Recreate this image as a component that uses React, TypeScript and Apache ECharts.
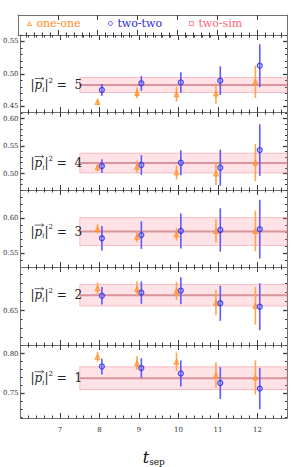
import React, { useEffect, useRef } from "react";
import * as echarts from "echarts";

// ---------------- data ----------------
const tsep = [8, 9, 10, 11, 12];
const xTickLabels = [7, 8, 9, 10, 11, 12];
const panelMomenta = [5, 4, 3, 2, 1];

// |p|^2 = 5
const oneOneP5 = [0.457, 0.471, 0.469, 0.47, 0.488];
const oneOneErrP5 = [0.005, 0.0085, 0.0115, 0.0157, 0.025];
const twoTwoP5 = [0.4754, 0.4857, 0.487, 0.4897, 0.5128];
const twoTwoErrP5 = [0.009, 0.0115, 0.0157, 0.022, 0.033];
const twoSimP5 = [0.483, 0.0115];
const yRangeP5 = [0.4415, 0.56];
const yLabelsP5 = [0.45, 0.5, 0.55];

// |p|^2 = 4
const oneOneP4 = [0.5113, 0.5124, 0.502, 0.5, 0.52];
const oneOneErrP4 = [0.007, 0.011, 0.013, 0.021, 0.034];
const twoTwoP4 = [0.5136, 0.5155, 0.5196, 0.5105, 0.5427];
const twoTwoErrP4 = [0.0125, 0.018, 0.0227, 0.033, 0.047];
const twoSimP4 = [0.519, 0.018];
const yRangeP4 = [0.47, 0.612];
const yLabelsP4 = [0.5, 0.55, 0.6];

// |p|^2 = 3
const oneOneP3 = [0.5847, 0.5737, 0.5771, 0.5819, 0.582];
const oneOneErrP3 = [0.0067, 0.008, 0.009, 0.017, 0.029];
const twoTwoP3 = [0.5714, 0.576, 0.5819, 0.5833, 0.5843];
const twoTwoErrP3 = [0.0176, 0.0197, 0.025, 0.031, 0.042];
const twoSimP3 = [0.581, 0.02];
const yRangeP3 = [0.5304, 0.6404];
const yLabelsP3 = [0.55, 0.6];

// |p|^2 = 2
const oneOneP2 = [0.6747, 0.6739, 0.6717, 0.6587, 0.6553];
const oneOneErrP2 = [0.0063, 0.0083, 0.01, 0.014, 0.021];
const twoTwoP2 = [0.6664, 0.6698, 0.672, 0.658, 0.6542];
const twoTwoErrP2 = [0.0096, 0.0124, 0.015, 0.0195, 0.026];
const twoSimP2 = [0.667, 0.012];
const yRangeP2 = [0.6117, 0.6983];
const yLabelsP2 = [0.65];

// |p|^2 = 1
const oneOneP1 = [0.796, 0.788, 0.7897, 0.773, 0.77];
const oneOneErrP1 = [0.0063, 0.0085, 0.0115, 0.016, 0.0214];
const twoTwoP1 = [0.7837, 0.7818, 0.775, 0.763, 0.756];
const twoTwoErrP1 = [0.0099, 0.0123, 0.0163, 0.02, 0.026];
const twoSimP1 = [0.769, 0.0143];
const yRangeP1 = [0.7191, 0.8107];
const yLabelsP1 = [0.75, 0.8];

// ---------------- layout / style ----------------
const FONT = "DejaVu Serif";
const X_MIN = 6;
const X_MAX = 12.75;
const FIT_START = 7.5;
const ONE_SHIFT = -0.05;
const TWO_SHIFT = 0.06;
const GRID_LEFT = 18;
const GRID_RIGHT = 4;
const LEGEND_ROW = { top: 15, height: 20 };
const PANEL_TOPS = [35, 112, 190, 267, 345];
const PANEL_HEIGHTS = [77, 78, 77, 78, 77];

const ORANGE = "#ff8c1a";
const ORANGE_BAR = "#ffa44a";
const BLUE = "#2a2ae6";
const BLUE_BAR = "#5b5bff";
const PINK_TEXT = "#ff6475";
const INK = "#222";

const X_MAJOR = [7, 8, 9, 10, 11, 12];
const X_MINOR: number[] = [];
for (let k = 31; k <= 63; k++) {
  if (k % 5 !== 0) X_MINOR.push(Math.round(k * 20) / 100);
}

type Panel = {
  m: number;
  one: number[];
  oneErr: number[];
  two: number[];
  twoErr: number[];
  sim: number[];
  yRange: number[];
  yLabels: number[];
};

const panels: Panel[] = [
  { m: panelMomenta[0], one: oneOneP5, oneErr: oneOneErrP5, two: twoTwoP5, twoErr: twoTwoErrP5, sim: twoSimP5, yRange: yRangeP5, yLabels: yLabelsP5 },
  { m: panelMomenta[1], one: oneOneP4, oneErr: oneOneErrP4, two: twoTwoP4, twoErr: twoTwoErrP4, sim: twoSimP4, yRange: yRangeP4, yLabels: yLabelsP4 },
  { m: panelMomenta[2], one: oneOneP3, oneErr: oneOneErrP3, two: twoTwoP3, twoErr: twoTwoErrP3, sim: twoSimP3, yRange: yRangeP3, yLabels: yLabelsP3 },
  { m: panelMomenta[3], one: oneOneP2, oneErr: oneOneErrP2, two: twoTwoP2, twoErr: twoTwoErrP2, sim: twoSimP2, yRange: yRangeP2, yLabels: yLabelsP2 },
  { m: panelMomenta[4], one: oneOneP1, oneErr: oneOneErrP1, two: twoTwoP1, twoErr: twoTwoErrP1, sim: twoSimP1, yRange: yRangeP1, yLabels: yLabelsP1 },
];

function minorValues(range: number[]): number[] {
  const out: number[] = [];
  const start = Math.ceil(range[0] * 100);
  const end = Math.floor(range[1] * 100);
  for (let k = start; k <= end; k++) {
    if (k % 5 !== 0) out.push(k / 100);
  }
  return out;
}

const errRender = (color: string) => (params: any, api: any) => {
  const x = api.value(0);
  const y = api.value(1);
  const e = api.value(2);
  const a = api.coord([x, y - e]);
  const b = api.coord([x, y + e]);
  return {
    type: "line",
    shape: { x1: a[0], y1: a[1], x2: b[0], y2: b[1] },
    style: { stroke: color, lineWidth: 1.6 },
  };
};

const labelRich = {
  b: { fontSize: 12, fontFamily: FONT, lineHeight: 16, color: INK },
  p: { fontSize: 12, fontFamily: FONT, fontStyle: "italic", lineHeight: 16, color: INK },
  sub: { fontSize: 7, fontFamily: FONT, fontStyle: "italic", lineHeight: 9, verticalAlign: "bottom", color: INK },
  sup: { fontSize: 7, fontFamily: FONT, lineHeight: 9, verticalAlign: "top", color: INK },
};

const bandRender = (params: any, api: any) => {
  const x0 = api.value(0);
  const x1 = api.value(1);
  const c = api.value(2);
  const e = api.value(3);
  const m = api.value(4);
  const tl = api.coord([x0, c + e]);
  const br = api.coord([x1, c - e]);
  const l0 = api.coord([x0, c]);
  const l1 = api.coord([x1, c]);
  const left = api.coord([X_MIN, c]);
  const tx = left[0] + 10;
  return {
    type: "group",
    children: [
      {
        type: "rect",
        shape: { x: tl[0], y: tl[1], width: br[0] - tl[0], height: br[1] - tl[1] },
        style: { fill: "rgba(255,140,155,0.25)", stroke: "rgba(240,130,145,0.6)", lineWidth: 0.8 },
      },
      {
        type: "line",
        shape: { x1: l0[0], y1: l0[1], x2: l1[0], y2: l1[1] },
        style: { stroke: "#d9939a", lineWidth: 2 },
      },
      {
        type: "text",
        x: tx,
        y: l0[1],
        style: {
          text: `{b||}{p|p}{sub|i}{b||}{sup|2}{b| =  ${m}}`,
          rich: labelRich,
          align: "left",
          verticalAlign: "middle",
          fill: INK,
        },
      },
      {
        type: "line",
        shape: { x1: tx + 4, y1: l0[1] - 6.5, x2: tx + 13, y2: l0[1] - 6.5 },
        style: { stroke: INK, lineWidth: 0.7 },
      },
      {
        type: "polyline",
        shape: { points: [[tx + 11, l0[1] - 8], [tx + 13.2, l0[1] - 6.5], [tx + 11, l0[1] - 5]] },
        style: { stroke: INK, lineWidth: 0.6, fill: "none" },
      },
    ],
  };
};

function buildOption() {
  const grid: any[] = [];
  const xAxis: any[] = [];
  const yAxis: any[] = [];
  const series: any[] = [];
  const tickLine = { color: "#3a3a3a", width: 1 };
  const frameLine = { show: true, onZero: false, lineStyle: { color: "#707070", width: 1 } };

  const rows = [LEGEND_ROW, ...PANEL_TOPS.map((t, i) => ({ top: t, height: PANEL_HEIGHTS[i] }))];

  rows.forEach((r, g) => {
    grid.push({ left: GRID_LEFT, right: GRID_RIGHT, top: r.top, height: r.height });
    const isLast = g === rows.length - 1;
    const xBase = {
      gridIndex: g,
      type: "value",
      min: X_MIN,
      max: X_MAX,
      splitLine: { show: false },
      axisLabel: { show: false },
    };
    const majorTick = { show: true, inside: true, length: 5, customValues: X_MAJOR, lineStyle: tickLine };
    const minorTick = { show: true, inside: true, length: 2.5, customValues: X_MINOR, lineStyle: tickLine };
    xAxis.push(
      {
        ...xBase,
        position: "bottom",
        axisLine: frameLine,
        axisTick: majorTick,
        axisLabel: isLast
          ? { show: true, customValues: xTickLabels, fontFamily: FONT, fontSize: 7, color: "#333", margin: 8 }
          : { show: false },
        name: isLast ? "{t|t}{s|sep}" : "",
        nameLocation: "middle",
        nameGap: 30,
        nameTextStyle: {
          rich: {
            t: { fontSize: 16, fontFamily: FONT, fontStyle: "italic", lineHeight: 18, color: "#111" },
            s: { fontSize: 9, fontFamily: FONT, lineHeight: 10, verticalAlign: "bottom", color: "#111" },
          },
        },
      },
      { ...xBase, position: "bottom", axisLine: { show: false }, axisTick: minorTick },
      { ...xBase, position: "top", axisLine: frameLine, axisTick: majorTick },
      { ...xBase, position: "top", axisLine: { show: false }, axisTick: minorTick }
    );

    if (g === 0) {
      const yb = { gridIndex: 0, type: "value", min: 0, max: 1, splitLine: { show: false }, axisLabel: { show: false }, axisTick: { show: false } };
      yAxis.push(
        { ...yb, position: "left", axisLine: frameLine },
        { ...yb, position: "left", axisLine: { show: false } },
        { ...yb, position: "right", axisLine: frameLine },
        { ...yb, position: "right", axisLine: { show: false } }
      );
      return;
    }

    const p = panels[g - 1];
    const minors = minorValues(p.yRange);
    const yb = {
      gridIndex: g,
      type: "value",
      min: p.yRange[0],
      max: p.yRange[1],
      splitLine: { show: false },
      axisLabel: { show: false },
    };
    const yMajorTick = { show: true, inside: true, length: 4, customValues: p.yLabels, lineStyle: { color: "#3a3a3a", width: 1.3 } };
    const yMinorTick = { show: true, inside: true, length: 2, customValues: minors, lineStyle: tickLine };
    yAxis.push(
      {
        ...yb,
        position: "left",
        axisLine: frameLine,
        axisTick: yMajorTick,
        axisLabel: {
          show: true,
          customValues: p.yLabels,
          formatter: (v: number) => v.toFixed(2),
          fontFamily: FONT,
          fontSize: 7,
          color: "#333",
          margin: 2,
        },
      },
      { ...yb, position: "left", axisLine: { show: false }, axisTick: yMinorTick },
      { ...yb, position: "right", axisLine: frameLine, axisTick: yMajorTick },
      { ...yb, position: "right", axisLine: { show: false }, axisTick: yMinorTick }
    );

    const xi = 4 * g;
    const yi = 4 * g;
    series.push(
      {
        type: "custom",
        name: "two-sim",
        xAxisIndex: xi,
        yAxisIndex: yi,
        silent: true,
        z: 1,
        renderItem: bandRender,
        data: [[FIT_START, X_MAX, p.sim[0], p.sim[1], p.m]],
      },
      {
        type: "custom",
        name: "one-one",
        xAxisIndex: xi,
        yAxisIndex: yi,
        silent: true,
        z: 2,
        renderItem: errRender(ORANGE_BAR),
        data: tsep.map((t, i) => [t + ONE_SHIFT, p.one[i], p.oneErr[i]]),
      },
      {
        type: "custom",
        name: "two-two",
        xAxisIndex: xi,
        yAxisIndex: yi,
        silent: true,
        z: 3,
        renderItem: errRender(BLUE_BAR),
        data: tsep.map((t, i) => [t + TWO_SHIFT, p.two[i], p.twoErr[i]]),
      },
      {
        type: "scatter",
        name: "one-one",
        xAxisIndex: xi,
        yAxisIndex: yi,
        silent: true,
        z: 4,
        symbol: "triangle",
        symbolSize: 5,
        itemStyle: { color: "rgba(255,150,60,0.55)", borderColor: ORANGE, borderWidth: 1 },
        data: tsep.map((t, i) => [t + ONE_SHIFT, p.one[i]]),
      },
      {
        type: "scatter",
        name: "two-two",
        xAxisIndex: xi,
        yAxisIndex: yi,
        silent: true,
        z: 5,
        symbol: "circle",
        symbolSize: 5,
        itemStyle: { color: "rgba(130,130,255,0.5)", borderColor: BLUE, borderWidth: 1.2 },
        data: tsep.map((t, i) => [t + TWO_SHIFT, p.two[i]]),
      }
    );
  });

  const legendBase = {
    top: 18,
    itemWidth: 4,
    itemHeight: 4,
    itemGap: 0,
    padding: 0,
    selectedMode: false,
  };

  return {
    animation: false,
    backgroundColor: "#ffffff",
    grid,
    xAxis,
    yAxis,
    series,
    legend: [
      {
        ...legendBase,
        left: 27,
        data: [{ name: "one-one", icon: "triangle", itemStyle: { color: "#fff", borderColor: ORANGE, borderWidth: 0.8 } }],
        textStyle: { color: ORANGE, fontFamily: FONT, fontSize: 11 },
      },
      {
        ...legendBase,
        left: 108,
        data: [{ name: "two-two", icon: "circle", itemStyle: { color: "#fff", borderColor: BLUE, borderWidth: 0.8 } }],
        textStyle: { color: BLUE, fontFamily: FONT, fontSize: 11 },
      },
      {
        ...legendBase,
        left: 189,
        data: [{ name: "two-sim", icon: "rect", itemStyle: { color: "#fff", borderColor: PINK_TEXT, borderWidth: 0.8 } }],
        textStyle: { color: PINK_TEXT, fontFamily: FONT, fontSize: 11 },
      },
    ],
  };
}

export default function App() {
  const ref = useRef<HTMLDivElement | null>(null);
  useEffect(() => {
    if (!ref.current) return;
    const chart = echarts.init(ref.current, null, { renderer: "svg" });
    chart.setOption(buildOption() as any);
    return () => chart.dispose();
  }, []);
  return (
    <div
      ref={ref}
      style={{ position: "absolute", left: 0, top: 0, width: 291, height: 467, background: "#fff" }}
    />
  );
}
